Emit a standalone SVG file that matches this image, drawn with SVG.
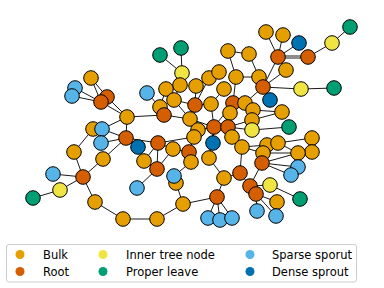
<svg xmlns="http://www.w3.org/2000/svg" width="384" height="288" viewBox="0 0 384 288">
<style>
.e line{stroke:#1a1a1a;stroke-width:1}
.n circle{stroke:#000;stroke-width:1}
.bulk{fill:#E69F00}.root{fill:#D55E00}.inner{fill:#F0E442}.leaf{fill:#009E73}.sparse{fill:#56B4E9}.dense{fill:#0072B2}
.lg text{font-family:"DejaVu Sans",sans-serif;font-size:11.5px;fill:#000}
</style>
<rect width="384" height="288" fill="#fff"/>
<g id="edges" class="e">
<line x1="91" y1="78" x2="107" y2="97"/><line x1="91" y1="78" x2="101" y2="102"/>
<line x1="75" y1="88" x2="101" y2="102"/><line x1="72" y1="96" x2="101" y2="102"/>
<line x1="107" y1="97" x2="127" y2="117"/><line x1="101" y1="102" x2="127" y2="117"/>
<line x1="127" y1="117" x2="164" y2="115"/><line x1="127" y1="117" x2="102" y2="129"/><line x1="127" y1="117" x2="126" y2="138"/>
<line x1="147" y1="93" x2="160" y2="107"/>
<line x1="160" y1="55" x2="182" y2="73"/><line x1="181" y1="48" x2="182" y2="73"/><line x1="182" y1="73" x2="180" y2="85"/>
<line x1="180" y1="85" x2="166" y2="89"/><line x1="166" y1="89" x2="174" y2="100"/><line x1="166" y1="89" x2="160" y2="107"/>
<line x1="160" y1="107" x2="164" y2="115"/><line x1="174" y1="100" x2="195" y2="105"/><line x1="174" y1="100" x2="190" y2="119"/>
<line x1="164" y1="115" x2="190" y2="119"/><line x1="180" y1="85" x2="174" y2="100"/>
<line x1="196" y1="86" x2="195" y2="105"/><line x1="209" y1="78" x2="195" y2="105"/><line x1="209" y1="78" x2="219" y2="72"/>
<line x1="195" y1="105" x2="211" y2="104"/><line x1="224" y1="89" x2="211" y2="104"/><line x1="211" y1="104" x2="214" y2="127"/>
<line x1="190" y1="119" x2="214" y2="127"/><line x1="198" y1="130" x2="214" y2="127"/>
<line x1="228" y1="51" x2="249" y2="54"/><line x1="228" y1="51" x2="236" y2="77"/><line x1="236" y1="77" x2="233" y2="103"/>
<line x1="236" y1="77" x2="259" y2="77"/><line x1="249" y1="54" x2="259" y2="77"/><line x1="259" y1="77" x2="263" y2="87"/>
<line x1="263" y1="87" x2="278" y2="57"/><line x1="263" y1="87" x2="286" y2="70"/><line x1="263" y1="87" x2="301" y2="89"/>
<line x1="301" y1="89" x2="334" y2="88"/><line x1="263" y1="87" x2="270" y2="100"/><line x1="263" y1="87" x2="245" y2="103"/>
<line x1="278" y1="57" x2="266" y2="32"/><line x1="278" y1="57" x2="283" y2="35"/><line x1="278" y1="57" x2="299" y2="43"/>
<line x1="278" y1="56" x2="308" y2="56"/><line x1="278" y1="58" x2="308" y2="58"/>
<line x1="308" y1="57" x2="332" y2="43"/><line x1="332" y1="43" x2="350" y2="27"/>
<line x1="233" y1="103" x2="245" y2="103"/><line x1="245" y1="103" x2="253" y2="110"/><line x1="253" y1="110" x2="282" y2="112"/>
<line x1="233" y1="103" x2="230" y2="113"/><line x1="230" y1="113" x2="228" y2="127"/><line x1="233" y1="103" x2="214" y2="127"/>
<line x1="214" y1="127" x2="228" y2="127"/><line x1="214" y1="127" x2="213" y2="143"/><line x1="214" y1="127" x2="209" y2="158"/>
<line x1="228" y1="127" x2="252" y2="120"/><line x1="228" y1="127" x2="252" y2="130"/><line x1="252" y1="120" x2="282" y2="112"/>
<line x1="252" y1="120" x2="253" y2="110"/><line x1="252" y1="130" x2="289" y2="127"/>
<line x1="228" y1="127" x2="232" y2="137"/><line x1="232" y1="137" x2="242" y2="147"/><line x1="242" y1="147" x2="267" y2="145"/>
<line x1="242" y1="147" x2="263" y2="153"/>
<line x1="267" y1="145" x2="278" y2="143"/><line x1="278" y1="143" x2="312" y2="138"/><line x1="278" y1="143" x2="298" y2="153"/>
<line x1="263" y1="153" x2="298" y2="153"/><line x1="298" y1="153" x2="312" y2="152"/><line x1="312" y1="138" x2="312" y2="152"/>
<line x1="263" y1="153" x2="262" y2="163"/><line x1="262" y1="163" x2="298" y2="153"/><line x1="262" y1="163" x2="298" y2="167"/>
<line x1="262" y1="163" x2="291" y2="175"/><line x1="262" y1="163" x2="250" y2="186"/>
<line x1="242" y1="147" x2="240" y2="173"/><line x1="240" y1="173" x2="224" y2="178"/><line x1="240" y1="173" x2="250" y2="186"/>
<line x1="250" y1="186" x2="256" y2="194"/><line x1="250" y1="186" x2="270" y2="185"/><line x1="270" y1="185" x2="300" y2="199"/>
<line x1="256" y1="194" x2="277" y2="202"/><line x1="256" y1="194" x2="257" y2="211"/><line x1="256" y1="194" x2="276" y2="216"/>
<line x1="209" y1="158" x2="224" y2="178"/><line x1="224" y1="178" x2="217" y2="197"/>
<line x1="217" y1="197" x2="208" y2="218"/><line x1="217" y1="197" x2="220" y2="220"/><line x1="217" y1="197" x2="232" y2="218"/>
<line x1="217" y1="197" x2="183" y2="204"/><line x1="183" y1="204" x2="157" y2="219"/><line x1="157" y1="219" x2="123" y2="219"/>
<line x1="123" y1="219" x2="95" y2="202"/><line x1="95" y1="202" x2="83" y2="177"/><line x1="83" y1="177" x2="53" y2="174"/>
<line x1="83" y1="177" x2="60" y2="190"/><line x1="60" y1="190" x2="33" y2="198"/><line x1="83" y1="177" x2="74" y2="152"/>
<line x1="83" y1="177" x2="103" y2="159"/><line x1="74" y1="152" x2="93" y2="129"/><line x1="103" y1="159" x2="126" y2="138"/>
<line x1="126" y1="138" x2="102" y2="129"/><line x1="126" y1="138" x2="101" y2="143"/><line x1="126" y1="138" x2="158" y2="143"/>
<line x1="158" y1="143" x2="144" y2="161"/><line x1="158" y1="143" x2="157" y2="169"/><line x1="144" y1="161" x2="157" y2="169"/>
<line x1="157" y1="169" x2="137" y2="188"/><line x1="157" y1="169" x2="173" y2="149"/><line x1="158" y1="143" x2="173" y2="149"/>
<line x1="158" y1="143" x2="194" y2="137"/><line x1="173" y1="149" x2="189" y2="152"/><line x1="189" y1="152" x2="191" y2="162"/>
<line x1="189" y1="152" x2="194" y2="137"/><line x1="194" y1="137" x2="198" y2="130"/>
<line x1="191" y1="162" x2="174" y2="176"/><line x1="176" y1="183" x2="183" y2="204"/>
</g>
<g id="nodes" class="n">
<g id="n_b1"><circle class="bulk" cx="91" cy="78" r="7.3"/></g>
<g id="n_s1"><circle class="sparse" cx="75" cy="88" r="7.3"/></g>
<g id="n_s2"><circle class="sparse" cx="72" cy="96" r="7.3"/></g>
<g id="n_r1"><circle class="root" cx="107" cy="97" r="7.3"/></g>
<g id="n_r2"><circle class="root" cx="101" cy="102" r="7.3"/></g>
<g id="n_b2"><circle class="bulk" cx="127" cy="117" r="7.3"/></g>
<g id="n_s3"><circle class="sparse" cx="147" cy="93" r="7.3"/></g>
<g id="n_g1"><circle class="leaf" cx="160" cy="55" r="7.3"/></g>
<g id="n_g2"><circle class="leaf" cx="181" cy="48" r="7.3"/></g>
<g id="n_y1"><circle class="inner" cx="182" cy="73" r="7.3"/></g>
<g id="n_b4"><circle class="bulk" cx="180" cy="85" r="7.3"/></g>
<g id="n_b5"><circle class="bulk" cx="166" cy="89" r="7.3"/></g>
<g id="n_b6"><circle class="bulk" cx="174" cy="100" r="7.3"/></g>
<g id="n_b3"><circle class="bulk" cx="160" cy="107" r="7.3"/></g>
<g id="n_r3"><circle class="root" cx="164" cy="115" r="7.3"/></g>
<g id="n_b8"><circle class="bulk" cx="196" cy="86" r="7.3"/></g>
<g id="n_b9"><circle class="bulk" cx="209" cy="78" r="7.3"/></g>
<g id="n_b10"><circle class="bulk" cx="219" cy="72" r="7.3"/></g>
<g id="n_b12"><circle class="bulk" cx="224" cy="89" r="7.3"/></g>
<g id="n_r4"><circle class="root" cx="195" cy="105" r="7.3"/></g>
<g id="n_b11"><circle class="bulk" cx="211" cy="104" r="7.3"/></g>
<g id="n_b7"><circle class="bulk" cx="190" cy="119" r="7.3"/></g>
<g id="n_b13"><circle class="bulk" cx="228" cy="51" r="7.3"/></g>
<g id="n_b14"><circle class="bulk" cx="249" cy="54" r="7.3"/></g>
<g id="n_b15"><circle class="bulk" cx="236" cy="77" r="7.3"/></g>
<g id="n_b19"><circle class="bulk" cx="259" cy="77" r="7.3"/></g>
<g id="n_r6"><circle class="root" cx="263" cy="87" r="7.3"/></g>
<g id="n_b21"><circle class="bulk" cx="266" cy="32" r="7.3"/></g>
<g id="n_b22"><circle class="bulk" cx="283" cy="35" r="7.3"/></g>
<g id="n_d1"><circle class="dense" cx="299" cy="43" r="7.3"/></g>
<g id="n_r7"><circle class="root" cx="278" cy="57" r="7.3"/></g>
<g id="n_r8"><circle class="root" cx="308" cy="57" r="7.3"/></g>
<g id="n_y2"><circle class="inner" cx="332" cy="43" r="7.3"/></g>
<g id="n_g3"><circle class="leaf" cx="350" cy="27" r="7.3"/></g>
<g id="n_b23"><circle class="bulk" cx="286" cy="70" r="7.3"/></g>
<g id="n_y3"><circle class="inner" cx="301" cy="89" r="7.3"/></g>
<g id="n_g4"><circle class="leaf" cx="334" cy="88" r="7.3"/></g>
<g id="n_d2"><circle class="dense" cx="270" cy="100" r="7.3"/></g>
<g id="n_r5"><circle class="root" cx="233" cy="103" r="7.3"/></g>
<g id="n_b16"><circle class="bulk" cx="245" cy="103" r="7.3"/></g>
<g id="n_b17"><circle class="bulk" cx="253" cy="110" r="7.3"/></g>
<g id="n_b20"><circle class="bulk" cx="282" cy="112" r="7.3"/></g>
<g id="n_b18"><circle class="bulk" cx="230" cy="113" r="7.3"/></g>
<g id="n_b35"><circle class="bulk" cx="252" cy="120" r="7.3"/></g>
<g id="n_y4"><circle class="inner" cx="252" cy="130" r="7.3"/></g>
<g id="n_g5"><circle class="leaf" cx="289" cy="127" r="7.3"/></g>
<g id="n_b36"><circle class="bulk" cx="198" cy="130" r="7.3"/></g>
<g id="n_b37"><circle class="bulk" cx="194" cy="137" r="7.3"/></g>
<g id="n_r14"><circle class="root" cx="214" cy="127" r="7.3"/></g>
<g id="n_r15"><circle class="root" cx="228" cy="127" r="7.3"/></g>
<g id="n_d4"><circle class="dense" cx="213" cy="143" r="7.3"/></g>
<g id="n_b38"><circle class="bulk" cx="232" cy="137" r="7.3"/></g>
<g id="n_b39"><circle class="bulk" cx="242" cy="147" r="7.3"/></g>
<g id="n_b40"><circle class="bulk" cx="267" cy="145" r="7.3"/></g>
<g id="n_b41"><circle class="bulk" cx="278" cy="143" r="7.3"/></g>
<g id="n_b42"><circle class="bulk" cx="312" cy="138" r="7.3"/></g>
<g id="n_b43"><circle class="bulk" cx="312" cy="152" r="7.3"/></g>
<g id="n_b44"><circle class="bulk" cx="298" cy="153" r="7.3"/></g>
<g id="n_b45"><circle class="bulk" cx="263" cy="153" r="7.3"/></g>
<g id="n_r16"><circle class="root" cx="262" cy="163" r="7.3"/></g>
<g id="n_s9"><circle class="sparse" cx="298" cy="167" r="7.3"/></g>
<g id="n_s10"><circle class="sparse" cx="291" cy="175" r="7.3"/></g>
<g id="n_b46"><circle class="bulk" cx="209" cy="158" r="7.3"/></g>
<g id="n_b47"><circle class="bulk" cx="224" cy="178" r="7.3"/></g>
<g id="n_r17"><circle class="root" cx="240" cy="173" r="7.3"/></g>
<g id="n_r18"><circle class="root" cx="250" cy="186" r="7.3"/></g>
<g id="n_r19"><circle class="root" cx="256" cy="194" r="7.3"/></g>
<g id="n_y6"><circle class="inner" cx="270" cy="185" r="7.3"/></g>
<g id="n_g7"><circle class="leaf" cx="300" cy="199" r="7.3"/></g>
<g id="n_b48"><circle class="bulk" cx="277" cy="202" r="7.3"/></g>
<g id="n_s11"><circle class="sparse" cx="257" cy="211" r="7.3"/></g>
<g id="n_s12"><circle class="sparse" cx="276" cy="216" r="7.3"/></g>
<g id="n_r20"><circle class="root" cx="217" cy="197" r="7.3"/></g>
<g id="n_s13"><circle class="sparse" cx="208" cy="218" r="7.3"/></g>
<g id="n_s14"><circle class="sparse" cx="220" cy="220" r="7.3"/></g>
<g id="n_s15"><circle class="sparse" cx="232" cy="218" r="7.3"/></g>
<g id="n_b32"><circle class="bulk" cx="183" cy="204" r="7.3"/></g>
<g id="n_b34"><circle class="bulk" cx="157" cy="219" r="7.3"/></g>
<g id="n_b33"><circle class="bulk" cx="123" cy="219" r="7.3"/></g>
<g id="n_b31"><circle class="bulk" cx="95" cy="202" r="7.3"/></g>
<g id="n_r13"><circle class="root" cx="83" cy="177" r="7.3"/></g>
<g id="n_s6"><circle class="sparse" cx="53" cy="174" r="7.3"/></g>
<g id="n_y5"><circle class="inner" cx="60" cy="190" r="7.3"/></g>
<g id="n_g6"><circle class="leaf" cx="33" cy="198" r="7.3"/></g>
<g id="n_b26"><circle class="bulk" cx="74" cy="152" r="7.3"/></g>
<g id="n_b27"><circle class="bulk" cx="103" cy="159" r="7.3"/></g>
<g id="n_b24"><circle class="bulk" cx="93" cy="129" r="7.3"/></g>
<g id="n_s4"><circle class="sparse" cx="102" cy="129" r="7.3"/></g>
<g id="n_s5"><circle class="sparse" cx="101" cy="143" r="7.3"/></g>
<g id="n_r9"><circle class="root" cx="126" cy="138" r="7.3"/></g>
<g id="n_d3"><circle class="dense" cx="138" cy="147" r="7.3"/></g>
<g id="n_r10"><circle class="root" cx="158" cy="143" r="7.3"/></g>
<g id="n_b25"><circle class="bulk" cx="173" cy="149" r="7.3"/></g>
<g id="n_r11"><circle class="root" cx="189" cy="152" r="7.3"/></g>
<g id="n_b29"><circle class="bulk" cx="191" cy="162" r="7.3"/></g>
<g id="n_b28"><circle class="bulk" cx="144" cy="161" r="7.3"/></g>
<g id="n_r12"><circle class="root" cx="157" cy="169" r="7.3"/></g>
<g id="n_s8"><circle class="sparse" cx="137" cy="188" r="7.3"/></g>
<g id="n_b30"><circle class="bulk" cx="176" cy="183" r="7.3"/></g>
<g id="n_s7"><circle class="sparse" cx="174" cy="176" r="7.3"/></g>
</g>
<g id="legend" class="lg">
<rect x="6.5" y="244.5" width="350" height="37.5" rx="2.5" fill="#fff" fill-opacity="0.8" stroke="#cccccc" stroke-width="1"/>
<circle class="bulk" cx="20" cy="254.5" r="4.5"/><text x="43" y="258.5">Bulk</text>
<circle class="root" cx="20" cy="271.5" r="4.5"/><text x="43" y="275.5">Root</text>
<circle class="inner" cx="103" cy="254.5" r="4.5"/><text x="126" y="258.5">Inner tree node</text>
<circle class="leaf" cx="103" cy="271.5" r="4.5"/><text x="126" y="275.5">Proper leave</text>
<circle class="sparse" cx="250" cy="254.5" r="4.5"/><text x="272" y="258.5">Sparse sporut</text>
<circle class="dense" cx="250" cy="271.5" r="4.5"/><text x="272" y="275.5">Dense sprout</text>
</g>
</svg>
